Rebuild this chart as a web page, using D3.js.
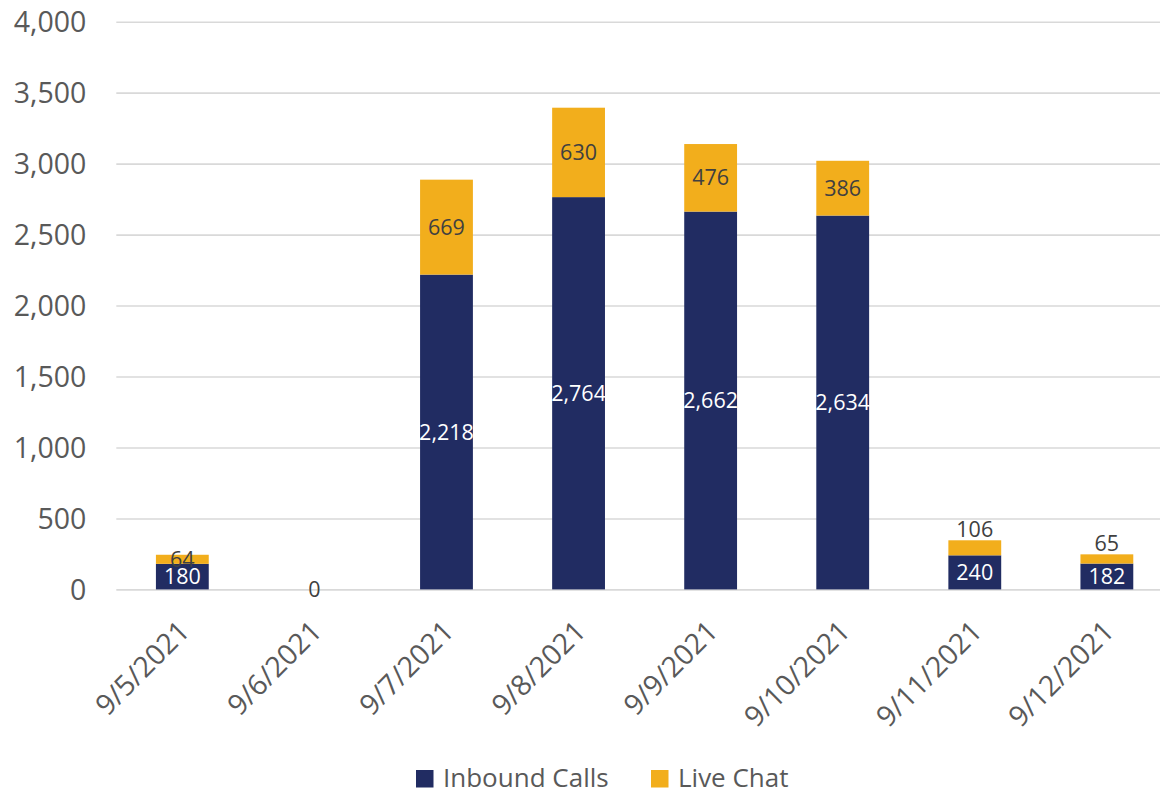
<!DOCTYPE html>
<html>
<head>
<meta charset="utf-8">
<script src="https://cdn.jsdelivr.net/npm/d3@7"></script>
<style>
  body { margin: 0; background: #fff; }
  svg { display: block; font-family: "Open Sans", sans-serif; }
</style>
</head>
<body>
<svg id="chart" width="1160" height="794"></svg>
<script>
const dates = ['9/5/2021', '9/6/2021', '9/7/2021', '9/8/2021', '9/9/2021', '9/10/2021', '9/11/2021', '9/12/2021'];
const inboundCalls = [180, 0, 2218, 2764, 2662, 2634, 240, 182];
const liveChat = [64, 0, 669, 630, 476, 386, 106, 65];
const yTicks = [0, 500, 1000, 1500, 2000, 2500, 3000, 3500, 4000];
const seriesNames = ['Inbound Calls', 'Live Chat'];
// dates where Excel pushed the small chat label above the bar
const chatLabelAbove = ['9/11/2021', '9/12/2021'];

const NAVY = '#212c62';
const GOLD = '#f2ae1c';
const fmt = d3.format(',');

const svg = d3.select('#chart');

const x = d3.scaleBand()
    .domain(dates)
    .range([116.3, 1172.9])
    .paddingInner(0.6)
    .paddingOuter(0.3);

const y = d3.scaleLinear()
    .domain([0, 4000])
    .range([589.4, 21.7]);

// gridlines + y labels
const yAxis = svg.append('g')
    .attr('transform', 'translate(116.3,0)')
    .call(d3.axisLeft(y).tickValues(yTicks).tickFormat(fmt).tickSize(-1060).tickPadding(30));
yAxis.select('.domain').remove();
yAxis.selectAll('.tick line').attr('stroke', '#d9d9d9').attr('stroke-width', 1.6);
yAxis.selectAll('.tick text')
    .attr('fill', '#595959')
    .attr('font-size', 28.5)
    .attr('font-family', '"Open Sans", sans-serif')
    .attr('dy', '0.35em');

const rows = dates.map((d, i) => ({ date: d, inbound: inboundCalls[i], chat: liveChat[i] }));
const stacked = d3.stack().keys(['inbound', 'chat'])(rows);
const colors = [NAVY, GOLD];

stacked.forEach((layer, li) => {
    svg.append('g').selectAll('rect')
        .data(layer)
        .join('rect')
        .attr('x', d => x(d.data.date))
        .attr('width', x.bandwidth())
        .attr('y', d => y(d[1]))
        .attr('height', d => y(d[0]) - y(d[1]))
        .attr('fill', colors[li]);
});

// inbound labels (white, centred)
svg.append('g').selectAll('text')
    .data(stacked[0])
    .join('text')
    .attr('x', d => x(d.data.date) + x.bandwidth() / 2)
    .attr('y', d => (y(d[0]) + y(d[1])) / 2)
    .attr('dy', '0.35em')
    .attr('text-anchor', 'middle')
    .attr('font-size', 21.5)
    .attr('fill', '#ffffff')
    .text(d => fmt(d.data.inbound));

// chat labels (dark)
svg.append('g').selectAll('text')
    .data(stacked[1])
    .join('text')
    .attr('x', d => x(d.data.date) + x.bandwidth() / 2)
    .attr('y', d => chatLabelAbove.includes(d.data.date) ? y(d[1]) - 3 : (y(d[0]) + y(d[1])) / 2)
    .attr('dy', d => chatLabelAbove.includes(d.data.date) ? '0' : '0.35em')
    .attr('text-anchor', 'middle')
    .attr('font-size', 21.5)
    .attr('fill', '#404040')
    .text(d => fmt(d.data.chat));

// x labels rotated
svg.append('g').selectAll('text')
    .data(dates)
    .join('text')
    .attr('transform', d => `translate(${x(d) + x.bandwidth() / 2 + 9},633) rotate(-45)`)
    .attr('text-anchor', 'end')
    .attr('font-size', 28.5)
    .attr('fill', '#595959')
    .text(d => d);

// legend
const legend = svg.append('g');
const legendX = [416, 651];
seriesNames.forEach((name, i) => {
    legend.append('rect')
        .attr('x', legendX[i]).attr('y', 770)
        .attr('width', 17.5).attr('height', 17.5)
        .attr('fill', colors[i]);
    legend.append('text')
        .attr('x', legendX[i] + 27).attr('y', 786.5)
        .attr('font-size', 26)
        .attr('fill', '#595959')
        .text(name);
});
</script>
</body>
</html>
